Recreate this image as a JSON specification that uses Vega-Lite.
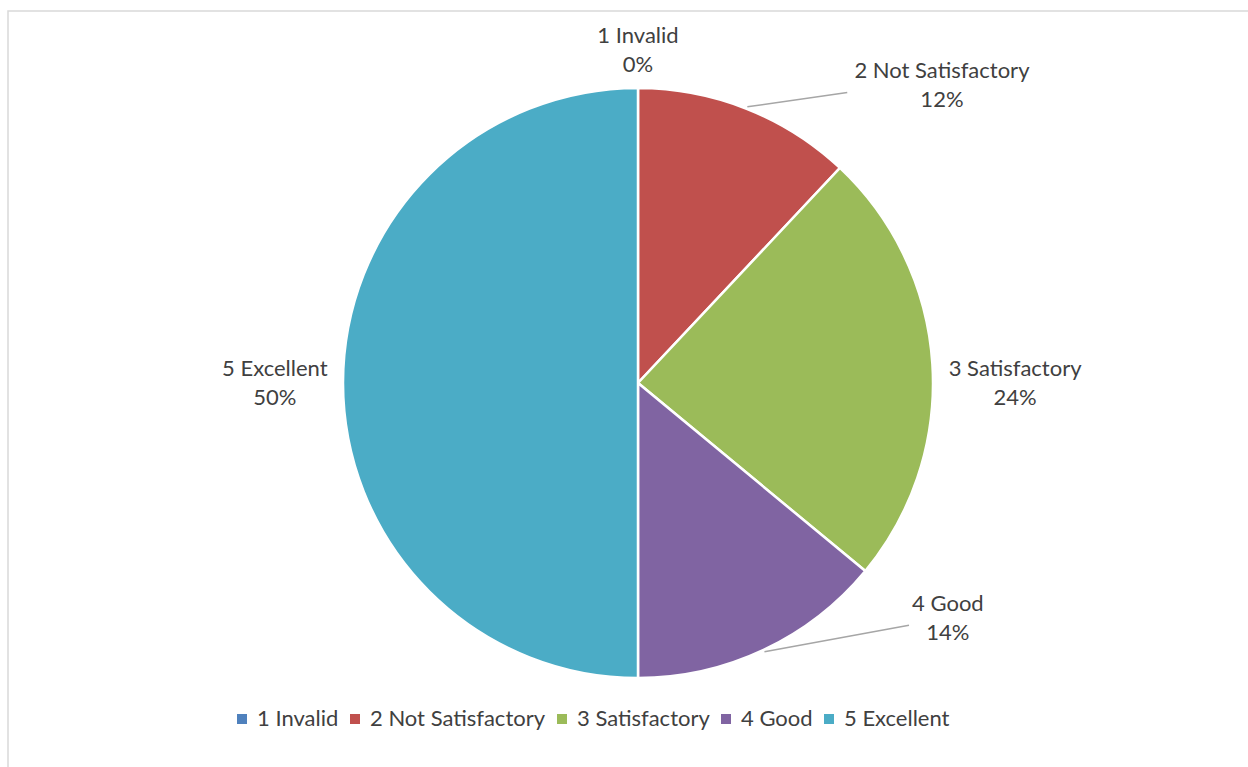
{
  "$schema": "https://vega.github.io/schema/vega-lite/v6.json",
  "autosize": "none",
  "padding": {"left": 8, "top": 11, "right": 0, "bottom": 0},
  "width": 1260,
  "height": 757,
  "background": "white",
  "view": {"stroke": "#d9d9d9", "strokeWidth": 1.5, "fill": "white"},
  "config": {
    "view": {"stroke": "#d9d9d9", "strokeWidth": 1.5},
    "font": "Lato"
  },
  "data": {
    "values": [
      {"cat": "1 Invalid", "value": 0},
      {"cat": "2 Not Satisfactory", "value": 12},
      {"cat": "3 Satisfactory", "value": 24},
      {"cat": "4 Good", "value": 14},
      {"cat": "5 Excellent", "value": 50}
    ]
  },
  "transform": [
    {"window": [{"op": "sum", "field": "value", "as": "cum"}], "sort": [{"field": "cat", "order": "ascending"}], "frame": [null, 0]},
    {"joinaggregate": [{"op": "sum", "field": "value", "as": "total"}]},
    {"calculate": "datum.cum - datum.value", "as": "start"},
    {"calculate": "datum.cum - datum.value / 2", "as": "mid"},
    {"calculate": "clamp(datum.mid < datum.total / 2 ? datum.total / 4 : 3 * datum.total / 4, datum.start, datum.cum)", "as": "lpos"},
    {"calculate": "datum.value > 0 && (datum.lpos == datum.start || datum.lpos == datum.cum) ? 1 : 0", "as": "lead"},
    {"calculate": "2 * PI * datum.lpos / datum.total", "as": "ang"},
    {"calculate": "2 * PI * datum.mid / datum.total", "as": "midAng"},
    {"calculate": "sin(datum.ang) >= 0 ? 1 : -1", "as": "side"},
    {"calculate": "format(datum.value / datum.total, '.0%')", "as": "pct"},
    {"calculate": "max(length(datum.cat), length(datum.pct)) * 9.3 + 14", "as": "w"},
    {"calculate": "305 + abs(sin(datum.ang)) * datum.w / 2 + abs(cos(datum.ang)) * 28 + datum.lead * 20", "as": "labelR"},
    {"calculate": "width / 2 + datum.labelR * sin(datum.ang) + datum.lead * datum.side * 25", "as": "tx"},
    {"calculate": "height / 2 - datum.labelR * cos(datum.ang)", "as": "ty"},
    {"calculate": "[datum.cat, datum.pct]", "as": "lbl"}
  ],
  "layer": [
    {
      "mark": {"type": "arc", "radius": 295, "stroke": "white", "strokeWidth": 2.5, "yOffset": -6.5},
      "encoding": {
        "theta": {"field": "start", "type": "quantitative", "scale": {"domain": [0, 100]}},
        "theta2": {"field": "cum"},
        "color": {
          "field": "cat",
          "type": "nominal",
          "scale": {
            "domain": ["1 Invalid", "2 Not Satisfactory", "3 Satisfactory", "4 Good", "5 Excellent"],
            "range": ["#4F81BD", "#C0504D", "#9BBB59", "#8064A2", "#4BACC6"]
          },
          "legend": {
            "orient": "none",
            "legendX": 223,
            "legendY": 697,
            "direction": "horizontal",
            "columns": 5,
            "title": null,
            "symbolType": "square",
            "symbolSize": 100,
            "symbolStrokeWidth": 0,
            "symbolOpacity": 1,
            "labelFontSize": 22,
            "labelFont": "Lato",
            "labelColor": "#404040",
            "labelOffset": 4,
            "columnPadding": 5,
            "labelLimit": 400
          }
        }
      }
    },
    {
      "transform": [
        {"filter": "datum.lead == 1"},
        {"calculate": "width / 2 + 297 * sin(datum.midAng)", "as": "lx1"},
        {"calculate": "height / 2 - 297 * cos(datum.midAng)", "as": "ly1"},
        {"calculate": "datum.tx - datum.side * (datum.w / 2 + 4)", "as": "lx2"}
      ],
      "mark": {"type": "rule", "stroke": "#a6a6a6", "strokeWidth": 1.5, "yOffset": -6.5},
      "encoding": {
        "x": {"field": "lx1", "type": "quantitative", "scale": null},
        "y": {"field": "ly1", "type": "quantitative", "scale": null},
        "x2": {"field": "lx2"},
        "y2": {"field": "ty"}
      }
    },
    {
      "mark": {"type": "text", "fontSize": 22, "lineHeight": 29, "fill": "#404040", "align": "center", "baseline": "middle", "dy": -14.5, "yOffset": -6.5, "font": "Lato"},
      "encoding": {
        "x": {"field": "tx", "type": "quantitative", "scale": null},
        "y": {"field": "ty", "type": "quantitative", "scale": null},
        "text": {"field": "lbl"}
      }
    }
  ]
}
